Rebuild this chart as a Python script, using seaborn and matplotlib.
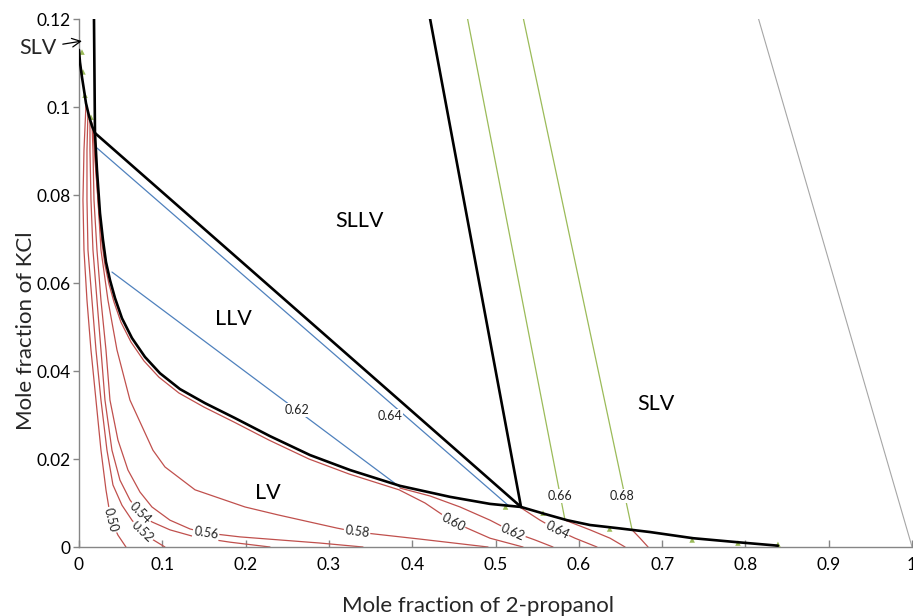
import numpy as np
import pandas as pd
import matplotlib
matplotlib.use("Agg")
import matplotlib.pyplot as plt
import seaborn as sns

# ---- phase boundaries (mole fraction 2-propanol, mole fraction KCl) ----
slv_left_x = [0.0000, 0.0012, 0.0036, 0.0060, 0.0084, 0.0120, 0.0156, 0.0192]
slv_left_y = [0.1130, 0.1102, 0.1068, 0.1039, 0.1009, 0.0980, 0.0957, 0.0941]

sllv_top_x = [0.0192, 0.5306]
sllv_top_y = [0.0941, 0.0091]

llv_edge_x = [0.0180, 0.0192, 0.0216, 0.0252, 0.0288, 0.0324, 0.0372, 0.0432, 0.0516,
              0.0636, 0.0792, 0.0972, 0.1212, 0.1513, 0.1873, 0.2293, 0.2773, 0.3253,
              0.3854, 0.4454, 0.4934, 0.5306, 0.5594, 0.5858, 0.6134, 0.6459, 0.6855,
              0.7371, 0.7899, 0.8391]
llv_edge_y = [0.1205, 0.0941, 0.0857, 0.0759, 0.0698, 0.0648, 0.0607, 0.0566, 0.0520,
              0.0475, 0.0432, 0.0395, 0.0359, 0.0327, 0.0293, 0.0252, 0.0209, 0.0175,
              0.0139, 0.0114, 0.0098, 0.0091, 0.0075, 0.0061, 0.0050, 0.0043, 0.0034,
              0.0020, 0.0011, 0.0003]

sllv_right_x = [0.421, 0.5306]
sllv_right_y = [0.1205, 0.0091]

# ---- iso-vapour-composition lines ----
red_levels = ["0.50", "0.52", "0.54", "0.56", "0.58", "0.60", "0.62", "0.64", "0.66", "0.68"]
red_x = [
    [0.0084, 0.0060, 0.0048, 0.0060, 0.0096, 0.0144, 0.0204, 0.0264, 0.0324, 0.0384, 0.0468,
     0.0564],
    [0.0108, 0.0096, 0.0096, 0.0108, 0.0156, 0.0204, 0.0264, 0.0336, 0.0408, 0.0516, 0.0636,
     0.0756, 0.0876, 0.1032],
    [0.0132, 0.0132, 0.0144, 0.0168, 0.0216, 0.0264, 0.0312, 0.0396, 0.0492, 0.0612, 0.0732,
     0.0876, 0.1092, 0.1393, 0.1813, 0.2293],
    [0.0156, 0.0168, 0.0180, 0.0216, 0.0264, 0.0324, 0.0372, 0.0468, 0.0588, 0.0732, 0.0876,
     0.1092, 0.1333, 0.1525, 0.1933, 0.2413, 0.2893, 0.3409],
    [0.0168, 0.0192, 0.0228, 0.0264, 0.0348, 0.0456, 0.0612, 0.0888, 0.1032, 0.1393, 0.1993,
     0.2389, 0.3097, 0.3337, 0.4094, 0.4910],
    [0.0180, 0.0204, 0.0240, 0.0276, 0.0312, 0.0360, 0.0420, 0.0504, 0.0624, 0.0780, 0.0960,
     0.1200, 0.1501, 0.1861, 0.2281, 0.2761, 0.3241, 0.3842, 0.4154, 0.4490, 0.4934, 0.5330],
    [0.3854, 0.4214, 0.4574, 0.4934, 0.5210, 0.5474, 0.5690],
    [0.5306, 0.5534, 0.5738, 0.5954, 0.6218],
    [0.5834, 0.6134, 0.6375, 0.6555],
    [0.6639, 0.6735, 0.6831],
]
red_y = [
    [0.1005, 0.0902, 0.0789, 0.0675, 0.0561, 0.0448, 0.0334, 0.0220, 0.0130, 0.0061, 0.0027,
     0.0],
    [0.0989, 0.0902, 0.0789, 0.0675, 0.0561, 0.0448, 0.0334, 0.0220, 0.0141, 0.0095, 0.0061,
     0.0034, 0.0018, 0.0],
    [0.0975, 0.0902, 0.0789, 0.0675, 0.0561, 0.0448, 0.0334, 0.0220, 0.0152, 0.0107, 0.0077,
     0.0057, 0.0039, 0.0023, 0.0011, 0.0],
    [0.0964, 0.0902, 0.0789, 0.0675, 0.0561, 0.0448, 0.0334, 0.0243, 0.0175, 0.0125, 0.0091,
     0.0061, 0.0041, 0.0032, 0.0023, 0.0016, 0.0009, 0.0],
    [0.0952, 0.0880, 0.0789, 0.0675, 0.0561, 0.0448, 0.0334, 0.0220, 0.0182, 0.0130, 0.0091,
     0.0073, 0.0043, 0.0034, 0.0018, 0.0],
    [0.0943, 0.0857, 0.0757, 0.0691, 0.0641, 0.0598, 0.0557, 0.0511, 0.0466, 0.0423, 0.0386,
     0.0350, 0.0318, 0.0284, 0.0243, 0.0200, 0.0166, 0.0130, 0.0100, 0.0057, 0.0020, 0.0],
    [0.0134, 0.0116, 0.0091, 0.0061, 0.0034, 0.0016, 0.0],
    [0.0089, 0.0061, 0.0039, 0.0020, 0.0],
    [0.0061, 0.0039, 0.0020, 0.0],
    [0.0039, 0.0020, 0.0],
]
red_label_pos = [(0.0384, 0.0061), (0.0756, 0.0034), (0.0732, 0.0077), (0.1525, 0.0032),
                 (0.3337, 0.0034), (0.4490, 0.0057), (0.5210, 0.0034), (0.5738, 0.0039),
                 None, None]

blue_levels = ["0.62", "0.64"]
blue_x = [[0.0396, 0.3854], [0.0216, 0.5150]]
blue_y = [[0.0625, 0.0136], [0.0907, 0.0095]]
blue_label_pos = [(0.2617, 0.0311), (0.3733, 0.0298)]

green_levels = ["0.66", "0.68"]
green_x = [[0.466, 0.5834], [0.533, 0.6639]]
green_y = [[0.1205, 0.0061], [0.1205, 0.0039]]
green_label_pos = [(0.577, 0.0116), (0.652, 0.0116)]

grey_x = [0.815, 1.0]
grey_y = [0.1205, 0.0]

# measured points on the saturation curves
pts_x = [0.0036, 0.0048, 0.0072, 0.0144, 0.512, 0.557, 0.637, 0.736, 0.791, 0.839]
pts_y = [0.1125, 0.1080, 0.1027, 0.0977, 0.0091, 0.0077, 0.0041, 0.0016, 0.0009, 0.0006]

region_names = ["SLLV", "LLV", "LV", "SLV"]
region_x = [0.337, 0.185, 0.227, 0.692]
region_y = [0.0741, 0.0518, 0.0123, 0.0325]

x_ticks = [0, 0.1, 0.2, 0.3, 0.4, 0.5, 0.6, 0.7, 0.8, 0.9, 1.0]
x_tick_labels = ["0", "0.1", "0.2", "0.3", "0.4", "0.5", "0.6", "0.7", "0.8", "0.9", "1"]
y_ticks = [0, 0.02, 0.04, 0.06, 0.08, 0.10, 0.12]
y_tick_labels = ["0", "0.02", "0.04", "0.06", "0.08", "0.1", "0.12"]

# ---- styling ----
sns.set_theme(style="white")
plt.rcParams["font.family"] = ["Lato", "DejaVu Sans"]

RED = "#C0504D"
BLUE = "#4F81BD"
GREEN = "#9BBB59"
GREY = "#A6A6A6"
AXIS = "#868686"

fig = plt.figure(figsize=(9.13, 6.16), dpi=100)
ax = fig.add_axes([0.0865, 0.112, 0.9125, 0.857])
ax.set_xlim(0, 1)
ax.set_ylim(0, 0.12)


def draw(xs, ys, color, lw, z=2):
    sns.lineplot(x=xs, y=ys, sort=False, estimator=None, color=color, lw=lw,
                 ax=ax, zorder=z, legend=False)


def inline_label(xs, ys, text, pos, rotate=True, fs=9):
    angle = 0.0
    if rotate:
        pts = ax.transData.transform(np.column_stack([xs, ys]))
        p = ax.transData.transform(pos)
        d = np.hypot(pts[:, 0] - p[0], pts[:, 1] - p[1])
        i = int(np.argmin(d))
        lo, hi = max(i - 1, 0), min(i + 1, len(pts) - 1)
        a, b = pts[lo], pts[hi]
        angle = np.degrees(np.arctan2(b[1] - a[1], b[0] - a[0]))
        if angle > 90:
            angle -= 180
        if angle < -90:
            angle += 180
    ax.text(pos[0], pos[1], text, fontsize=fs, color="#222222", rotation=angle,
            rotation_mode="anchor", ha="center", va="center", zorder=6,
            bbox=dict(boxstyle="square,pad=0.08", fc="white", ec="none"))


for xs, ys in zip(red_x, red_y):
    draw(xs, ys, RED, 0.9)
for xs, ys in zip(blue_x, blue_y):
    draw(xs, ys, BLUE, 0.9)
for xs, ys in zip(green_x, green_y):
    draw(xs, ys, GREEN, 0.9)
draw(grey_x, grey_y, GREY, 0.8)

for xs, ys in [(slv_left_x, slv_left_y), (sllv_top_x, sllv_top_y),
               (llv_edge_x, llv_edge_y), (sllv_right_x, sllv_right_y)]:
    draw(xs, ys, "black", 1.9, z=4)

sns.scatterplot(x=pts_x, y=pts_y, marker="^", s=16, color=GREEN, edgecolor="none",
                ax=ax, zorder=3, legend=False)

for xs, ys, lab, pos in zip(red_x, red_y, red_levels, red_label_pos):
    if pos is not None:
        inline_label(xs, ys, lab, pos, rotate=True)
for xs, ys, lab, pos in zip(blue_x, blue_y, blue_levels, blue_label_pos):
    inline_label(xs, ys, lab, pos, rotate=False)
for xs, ys, lab, pos in zip(green_x, green_y, green_levels, green_label_pos):
    inline_label(xs, ys, lab, pos, rotate=False)

for name, rx, ry in zip(region_names, region_x, region_y):
    ax.text(rx, ry, name, fontsize=15.5, ha="center", va="center", color="black")

ax.annotate("SLV", xy=(0.0036, 0.1150), xytext=(-0.049, 0.1134),
            fontsize=15.5, ha="center", va="center", annotation_clip=False,
            arrowprops=dict(arrowstyle="->", lw=0.9, color="black",
                            shrinkA=2, shrinkB=0))

for side in ["top", "right"]:
    ax.spines[side].set_visible(False)
for side in ["left", "bottom"]:
    ax.spines[side].set_color(AXIS)
    ax.spines[side].set_linewidth(1.0)

ax.set_xticks(x_ticks)
ax.set_xticklabels(x_tick_labels)
ax.set_yticks(y_ticks)
ax.set_yticklabels(y_tick_labels)
ax.tick_params(axis="x", direction="in", length=5, width=1, color=AXIS, pad=7,
               labelsize=12.5, labelcolor="black", bottom=True)
ax.tick_params(axis="y", direction="out", length=4, width=1, color=AXIS, pad=2,
               labelsize=12.5, labelcolor="black", left=True)

ax.set_xlabel("Mole fraction of 2-propanol", fontsize=16)
ax.set_ylabel("Mole fraction of KCl", fontsize=16)
ax.xaxis.set_label_coords(0.479, -0.093)
ax.yaxis.set_label_coords(-0.052, 0.409)

fig.savefig("out.png", dpi=100)
